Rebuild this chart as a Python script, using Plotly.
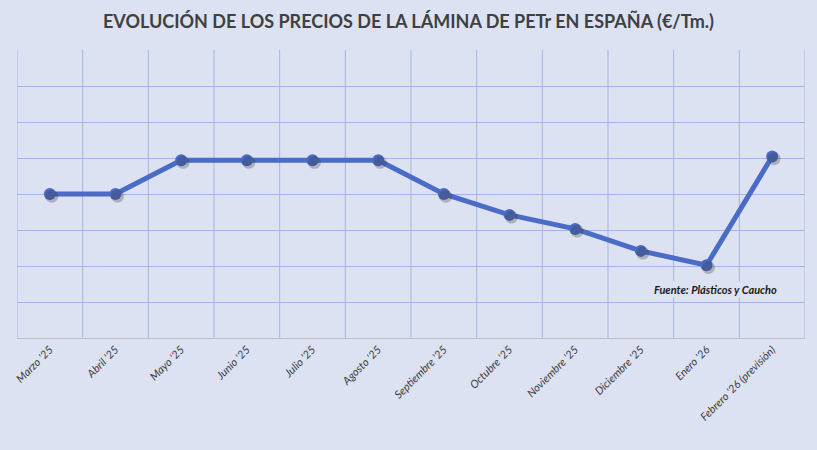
import plotly.graph_objects as go

# Meses y precios (escala relativa: una línea de cuadrícula = 1 unidad)
meses = ["Marzo '25", "Abril '25", "Mayo '25", "Junio '25", "Julio '25", "Agosto '25",
         "Septiembre '25", "Octubre '25", "Noviembre '25", "Diciembre '25", "Enero '26",
         "Febrero '26 (previsión)"]
precios = [4.0, 4.0, 4.94, 4.94, 4.94, 4.94, 4.0, 3.42, 3.03, 2.42, 2.02, 5.04]

titulo = "EVOLUCIÓN DE LOS PRECIOS DE LA LÁMINA DE PETr EN ESPAÑA (€/Tm.)"
fuente = "Fuente: Plásticos y Caucho"

azul = "#4A6BC6"
fondo = "#DCE2F2"
rejilla = "#A3B4E8"

fig = go.Figure()

# sombra de los marcadores (mismos datos, ejes ligeramente desplazados)
fig.add_trace(go.Scatter(
    x=meses, y=precios, mode="markers", xaxis="x2", yaxis="y2",
    marker=dict(size=13, color="rgba(60,60,60,0.3)"),
    hoverinfo="skip", showlegend=False,
))
fig.add_trace(go.Scatter(
    x=meses, y=precios, mode="lines+markers",
    line=dict(color=azul, width=5),
    marker=dict(size=12, color=azul),
    showlegend=False,
))

fig.add_annotation(
    text="<b><i>" + fuente + "</i></b>", x=0.887, y=0.167, xref="paper", yref="paper",
    xanchor="center", yanchor="middle",
    showarrow=False, font=dict(family="Lato", size=11, color="#1a1a1a"),
    bgcolor=fondo,
)

fig.update_layout(
    width=817, height=450,
    margin=dict(l=17, r=12, t=50, b=112),
    paper_bgcolor=fondo, plot_bgcolor=fondo,
    title=dict(text="<b>" + titulo + "</b>", x=0.5, xanchor="center", y=0.952, yanchor="middle",
               font=dict(family="Lato", size=18, color="#404040")),
    xaxis=dict(
        type="category", range=[-0.5, 11.5], tickangle=-45,
        showgrid=False, showline=True, linecolor="#BFBFBF", linewidth=1,
        ticks="", tickfont=dict(family="Lato", size=11, color="#3a3a3a", style="italic"),
    ),
    yaxis=dict(
        range=[0, 8], dtick=1, showticklabels=False, ticks="",
        showgrid=True, gridcolor=rejilla, gridwidth=1, zeroline=False,
    ),
    xaxis2=dict(type="category", overlaying="x", range=[-0.53, 11.47], visible=False),
    yaxis2=dict(overlaying="y", range=[0.06, 8.06], visible=False),
    hovermode="closest",
)

# líneas verticales de la cuadrícula entre categorías y borde del área
for i in range(len(meses) + 1):
    fig.add_shape(type="line", xref="x", yref="paper", x0=i - 0.5, x1=i - 0.5, y0=0, y1=1,
                  line=dict(color=rejilla, width=1), layer="below")

fig.write_html("out.html", config={"displayModeBar": False},
               post_script="document.body.style.margin='0px';")
